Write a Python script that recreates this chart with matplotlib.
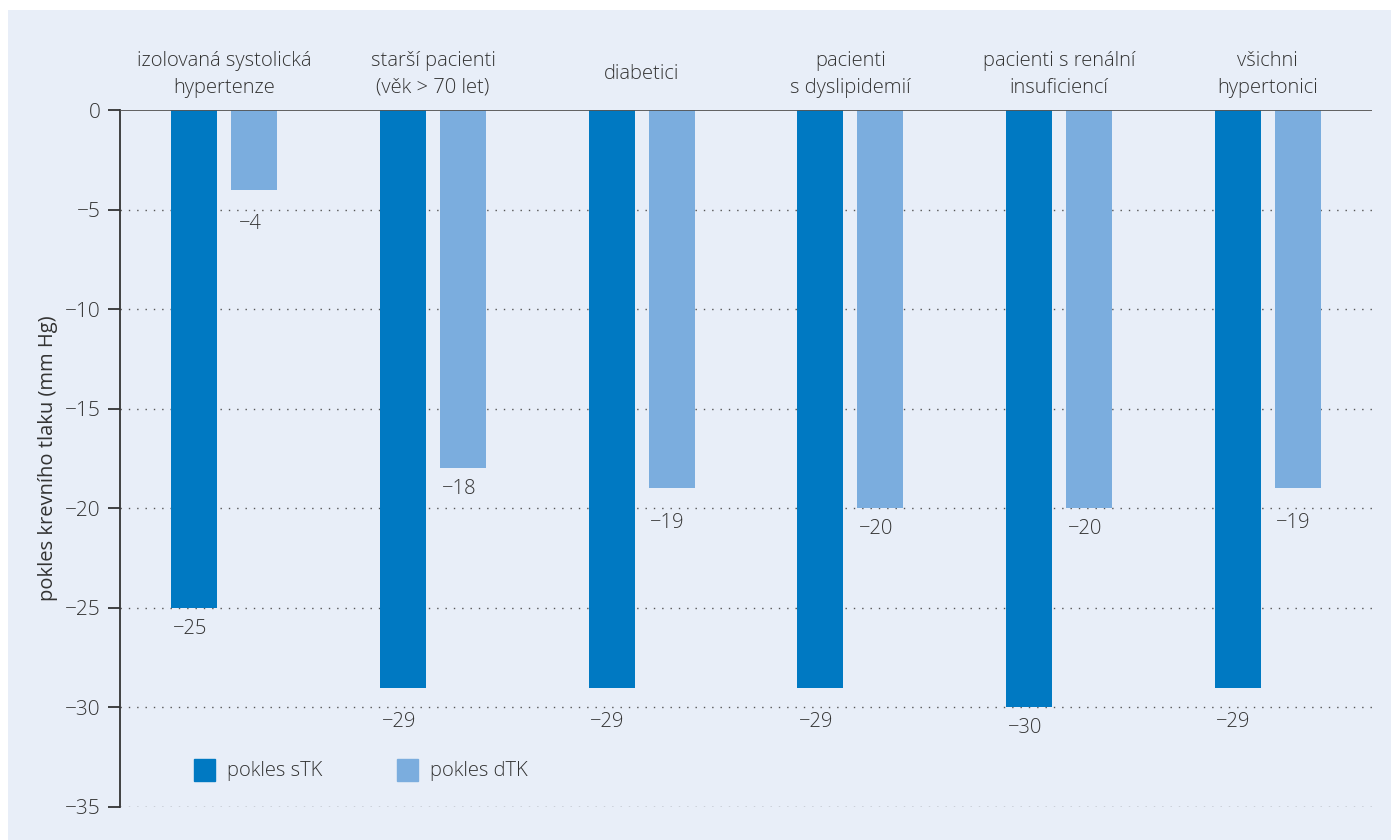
import math
import matplotlib.pyplot as plt
from matplotlib.patches import Rectangle, Patch

plt.rcParams['font.family'] = ['Open Sans', 'DejaVu Sans']
plt.rcParams['font.weight'] = 'light'

skupiny = ['izolovaná systolická\nhypertenze', 'starší pacienti\n(věk > 70 let)', 'diabetici',
           'pacienti\ns dyslipidemií', 'pacienti s renální\ninsuficiencí', 'všichni\nhypertonici']
pokles_sTK = [-25, -29, -29, -29, -30, -29]
pokles_dTK = [-4, -18, -19, -20, -20, -19]
yticks = [0, -5, -10, -15, -20, -25, -30, -35]

barva_s = '#0079c2'
barva_d = '#7badde'
pozadi = '#e8eef8'
text_c = '#333333'
fs = 14.5

fig = plt.figure(figsize=(13.91, 8.4), dpi=100)
fig.patches.append(Rectangle((8 / 1391, 0), 1 - 8 / 1391, 1 - 10 / 840, transform=fig.transFigure,
                             facecolor=pozadi, edgecolor='none', zorder=-10))
ax = fig.add_axes([120 / 1391, 1 - 807 / 840, 1252 / 1391, 697 / 840])
ax.set_facecolor(pozadi)

x = range(len(skupiny))
sirka = 0.22
posun = 0.144
xs = [i - posun for i in x]
xd = [i + posun for i in x]
ax.bar(xs, pokles_sTK, width=sirka, color=barva_s, zorder=3)
ax.bar(xd, pokles_dTK, width=sirka, color=barva_d, zorder=3)

# popisky pod sloupcem, kdyz je mrizka tesne pod nim, tak az pod ni
for xi, v in zip(xs + xd, pokles_sTK + pokles_dTK):
    mriz = 5 * math.floor(v / 5)
    y = v - 1.05
    if 0 < v - mriz <= 1:
        y = min(y, mriz - 0.72)
    ax.text(xi - 0.02, y, '\u2212' + str(abs(v)), ha='center', va='center', fontsize=fs, color=text_c)

for i, s in enumerate(skupiny):
    ax.text(i, 1.051, s, transform=ax.get_xaxis_transform(), ha='center', va='center',
            fontsize=fs, color=text_c, linespacing=1.45)

ax.set_xlim(-0.5, 5.5)
ax.set_ylim(-35, 0)
ax.set_yticks(yticks)
ax.set_yticklabels(['0'] + ['\u2212' + str(abs(t)) for t in yticks[1:]])
ax.set_xticks([])
for t in yticks[1:]:
    ax.axhline(t, color='#555555', linestyle=(0, (1, 5)), linewidth=1, zorder=1)
ax.axhline(0, color='#555555', linewidth=1.3, zorder=4)

for s in ['top', 'right', 'bottom']:
    ax.spines[s].set_visible(False)
ax.spines['left'].set_color('#333333')
ax.spines['left'].set_linewidth(1.3)
ax.tick_params(axis='y', length=9, width=1.3, color='#333333', labelsize=15, labelcolor=text_c, pad=5)
ax.set_ylabel('pokles krevního tlaku (mm Hg)', fontsize=fs, color=text_c, labelpad=5)

handles = [Patch(color=barva_s, label='pokles sTK'), Patch(color=barva_d, label='pokles dTK')]
leg = ax.legend(handles=handles, ncol=2, frameon=False, loc='center left', bbox_to_anchor=(0.045, 0.053),
                fontsize=fs, handlelength=1.0, handleheight=1.3, columnspacing=3.75, handletextpad=0.6)
for t in leg.get_texts():
    t.set_color(text_c)

fig.savefig('out.png', dpi=100)
